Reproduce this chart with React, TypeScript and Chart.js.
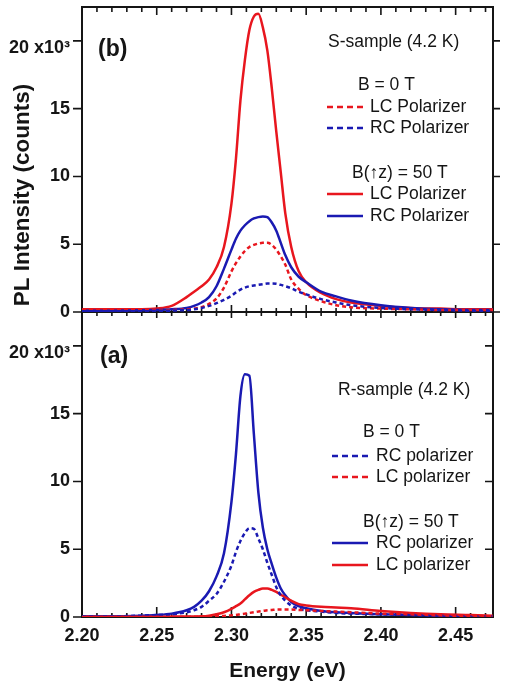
import React, { useEffect, useRef } from 'react';
import { Chart, registerables } from 'chart.js';

Chart.register(...registerables);

const W = 507;
const H = 689;
const FONT = '"Liberation Sans", Arial, Helvetica, sans-serif';

// Photon energy (eV)
const energy = [2.200, 2.220, 2.240, 2.250, 2.260, 2.270, 2.275, 2.280, 2.285, 2.290, 2.295, 2.300, 2.303, 2.306, 2.309, 2.312, 2.315, 2.318, 2.321, 2.324, 2.327, 2.330, 2.333, 2.336, 2.340, 2.345, 2.350, 2.360, 2.370, 2.380, 2.400, 2.420, 2.440, 2.460, 2.475];

// Panel (b) S-sample, PL intensity in 10^3 counts
const sLC0 = [0.15, 0.15, 0.15, 0.15, 0.15, 0.2, 0.25, 0.35, 0.6, 1.0, 1.8, 3.0, 3.6, 4.1, 4.5, 4.8, 4.95, 5.05, 5.1, 5.1, 4.95, 4.6, 4.1, 3.5, 2.4, 1.7, 1.25, 0.8, 0.5, 0.35, 0.25, 0.2, 0.15, 0.15, 0.15];
const sRC0 = [0.05, 0.05, 0.05, 0.08, 0.1, 0.15, 0.2, 0.3, 0.45, 0.65, 0.9, 1.2, 1.45, 1.65, 1.8, 1.9, 1.95, 2.0, 2.05, 2.1, 2.1, 2.08, 2.0, 1.9, 1.75, 1.5, 1.3, 0.95, 0.7, 0.5, 0.3, 0.2, 0.15, 0.1, 0.1];
const sLC50 = [0.2, 0.2, 0.2, 0.25, 0.45, 1.1, 1.5, 1.9, 2.4, 3.3, 4.8, 8.0, 11.3, 15.6, 18.6, 20.8, 21.8, 22.0, 21.0, 19.3, 16.5, 13.3, 10.3, 7.3, 4.8, 3.0, 2.2, 1.4, 0.95, 0.7, 0.45, 0.3, 0.25, 0.2, 0.2];
const sRC50 = [0.1, 0.1, 0.12, 0.15, 0.2, 0.3, 0.45, 0.7, 1.1, 1.9, 3.2, 4.6, 5.4, 6.0, 6.4, 6.7, 6.9, 7.0, 7.05, 7.0, 6.6, 6.0, 5.1, 4.2, 3.3, 2.6, 2.2, 1.5, 1.15, 0.85, 0.5, 0.3, 0.2, 0.15, 0.15];

// Panel (a) R-sample, PL intensity in 10^3 counts
const rRC0 = [0.05, 0.05, 0.1, 0.15, 0.2, 0.35, 0.5, 0.75, 1.2, 1.7, 2.6, 3.8, 4.8, 5.6, 6.2, 6.55, 6.5, 5.8, 5.0, 4.0, 3.1, 2.2, 1.6, 1.2, 0.85, 0.6, 0.5, 0.4, 0.3, 0.25, 0.2, 0.15, 0.1, 0.05, 0.05];
const rLC0 = [0, 0, 0, 0, 0, 0, 0.02, 0.03, 0.04, 0.05, 0.08, 0.12, 0.15, 0.2, 0.25, 0.3, 0.35, 0.4, 0.45, 0.5, 0.52, 0.55, 0.55, 0.55, 0.55, 0.52, 0.5, 0.45, 0.4, 0.35, 0.25, 0.2, 0.12, 0.08, 0.05];
const rRC50 = [0.05, 0.05, 0.1, 0.15, 0.25, 0.5, 0.75, 1.2, 1.9, 3.0, 4.7, 8.5, 12.0, 16.3, 17.9, 17.8, 13.5, 9.2, 6.6, 5.0, 3.9, 2.9, 2.1, 1.6, 1.1, 0.8, 0.65, 0.45, 0.35, 0.3, 0.2, 0.15, 0.1, 0.05, 0.05];
const rLC50 = [0.02, 0.02, 0.02, 0.02, 0.03, 0.03, 0.04, 0.05, 0.1, 0.2, 0.35, 0.6, 0.8, 1.0, 1.3, 1.6, 1.85, 2.0, 2.1, 2.1, 2.0, 1.85, 1.65, 1.45, 1.2, 0.95, 0.85, 0.75, 0.7, 0.65, 0.45, 0.3, 0.2, 0.15, 0.1];

// Axes
const xMin = 2.2;
const xMax = 2.475;
const yMin = 0;
const yMax = 22.5;
const xTicks = [2.20, 2.25, 2.30, 2.35, 2.40, 2.45];
const xTickLabels = ['2.20', '2.25', '2.30', '2.35', '2.40', '2.45'];
const xMinorStep = 0.01;
const yTicks = [0, 5, 10, 15, 20];
const yTickLabels: (string | string[])[] = ['0', '5', '10', '15', ['', '20 x10\u00B3']];

const yTitle = 'PL Intensity (counts)';
const xTitle = 'Energy (eV)';

const RED = '#e8161e';
const BLUE = '#1a1ab2';
const INK = '#151515';

// Legend texts
const topSample = 'S-sample (4.2 K)';
const botSample = 'R-sample (4.2 K)';
const field0 = 'B = 0 T';
const field50 = 'B(\u2191z) = 50 T';
const topLabels = ['LC Polarizer', 'RC Polarizer', 'LC Polarizer', 'RC Polarizer'];
const botLabels = ['RC polarizer', 'LC polarizer', 'RC polarizer', 'LC polarizer'];

const font = (size: number, bold = false) => `${bold ? 'bold ' : ''}${size}px ${FONT}`;

function series(arr: number[]) {
  return energy.map((e, i) => ({ x: e, y: arr[i] }));
}

function ds(label: string, arr: number[], color: string, dotted: boolean) {
  return {
    label,
    data: series(arr),
    borderColor: color,
    backgroundColor: color,
    borderWidth: 2.5,
    borderDash: dotted ? [4, 3] : [],
    pointRadius: 0,
    fill: false,
    cubicInterpolationMode: 'monotone' as const,
  };
}

function framePlugin(isTop: boolean) {
  return {
    id: 'frame' + (isTop ? 'Top' : 'Bot'),
    beforeDatasetsDraw(chart: any) {
      const { ctx, chartArea } = chart;
      const { left, right, top, bottom } = chartArea;
      const xs = chart.scales.x;
      const ys = chart.scales.y;
      ctx.save();
      ctx.strokeStyle = INK;
      ctx.lineWidth = 2;
      ctx.setLineDash([]);
      ctx.beginPath();
      ctx.moveTo(left, top);
      ctx.lineTo(right, top);
      ctx.moveTo(left, bottom);
      ctx.lineTo(right, bottom);
      ctx.moveTo(left, top - 1);
      ctx.lineTo(left, bottom + 1);
      ctx.moveTo(right, top - 1);
      ctx.lineTo(right, bottom + 1);
      ctx.stroke();

      ctx.lineWidth = 1.6;
      ctx.beginPath();
      const n = Math.round((xMax - xMin) / xMinorStep);
      for (let i = 0; i <= n; i++) {
        const v = xMin + i * xMinorStep;
        const major = i % 5 === 0;
        const px = xs.getPixelForValue(v);
        const topLen = isTop ? (major ? 8 : 5) : (major ? 6 : 4);
        const botLen = isTop ? (major ? 7 : 4) : (major ? 10 : 4);
        ctx.moveTo(px, top);
        ctx.lineTo(px, top + topLen);
        ctx.moveTo(px, bottom);
        ctx.lineTo(px, bottom - botLen);
      }
      for (const v of yTicks) {
        const py = ys.getPixelForValue(v);
        ctx.moveTo(left - 9, py);
        ctx.lineTo(left, py);
        if (isTop) {
          ctx.moveTo(right, py);
          ctx.lineTo(right + 7, py);
        } else {
          ctx.moveTo(right - 8, py);
          ctx.lineTo(right, py);
        }
      }
      ctx.stroke();
      ctx.restore();
    },
  };
}

type LegendRow = { text: string; color?: string; dotted?: boolean };

function drawLegend(ctx: CanvasRenderingContext2D, sample: string, sx: number, sy: number,
  h0x: number, h0y: number, rows0: LegendRow[], r0y: number[],
  h1x: number, h1y: number, rows1: LegendRow[], r1y: number[], lx: number, tx: number) {
  ctx.save();
  ctx.fillStyle = INK;
  ctx.font = font(17.5);
  ctx.textAlign = 'left';
  ctx.textBaseline = 'middle';
  ctx.fillText(sample, sx, sy);
  ctx.fillText(field0, h0x, h0y);
  ctx.fillText(field50, h1x, h1y);
  const rows = [...rows0.map((r, i) => ({ ...r, y: r0y[i] })), ...rows1.map((r, i) => ({ ...r, y: r1y[i] }))];
  for (const r of rows) {
    ctx.save();
    ctx.strokeStyle = r.color!;
    ctx.lineWidth = 2.6;
    ctx.setLineDash(r.dotted ? [6, 4] : []);
    ctx.beginPath();
    ctx.moveTo(lx, r.y);
    ctx.lineTo(lx + 36, r.y);
    ctx.stroke();
    ctx.restore();
    ctx.fillText(r.text, tx, r.y);
  }
  ctx.restore();
}

const topTextPlugin = {
  id: 'topText',
  afterDraw(chart: any) {
    const ctx: CanvasRenderingContext2D = chart.ctx;
    ctx.save();
    ctx.fillStyle = INK;
    ctx.translate(23, 195);
    ctx.rotate(-Math.PI / 2);
    ctx.font = font(22.5, true);
    ctx.textAlign = 'center';
    ctx.textBaseline = 'middle';
    ctx.fillText(yTitle, 0, 0);
    ctx.restore();

    ctx.save();
    ctx.fillStyle = INK;
    ctx.font = font(23, true);
    ctx.textAlign = 'left';
    ctx.textBaseline = 'middle';
    ctx.fillText('(b)', 98, 50);
    ctx.restore();

    drawLegend(ctx, topSample, 328, 42,
      358, 85,
      [{ text: topLabels[0], color: RED, dotted: true }, { text: topLabels[1], color: BLUE, dotted: true }], [107, 128],
      352, 173,
      [{ text: topLabels[2], color: RED }, { text: topLabels[3], color: BLUE }], [194, 216],
      327, 370);
  },
};

const botTextPlugin = {
  id: 'botText',
  afterDraw(chart: any) {
    const ctx: CanvasRenderingContext2D = chart.ctx;
    ctx.save();
    ctx.fillStyle = INK;
    ctx.font = font(23, true);
    ctx.textAlign = 'left';
    ctx.textBaseline = 'middle';
    ctx.fillText('(a)', 100, 357);
    ctx.restore();

    drawLegend(ctx, botSample, 338, 390,
      363, 432,
      [{ text: botLabels[0], color: BLUE, dotted: true }, { text: botLabels[1], color: RED, dotted: true }], [456, 477],
      363, 522,
      [{ text: botLabels[2], color: BLUE }, { text: botLabels[3], color: RED }], [543, 565],
      332, 376);
  },
};

function makeOptions(isTop: boolean): any {
  return {
    responsive: false,
    animation: false,
    events: [],
    layout: {
      padding: isTop
        ? { left: 0, right: 14, top: 7, bottom: 377 }
        : { left: 0, right: 14, top: 312, bottom: 0 },
    },
    plugins: {
      legend: { display: false },
      tooltip: { enabled: false },
      title: { display: false },
    },
    scales: {
      x: {
        type: 'linear',
        min: xMin,
        max: xMax,
        display: !isTop,
        afterBuildTicks: (s: any) => {
          s.ticks = xTicks.map((v) => ({ value: v }));
        },
        afterFit: (s: any) => {
          s.height = isTop ? 0 : 72;
          s.paddingLeft = 0;
          s.paddingRight = 0;
        },
        grid: { display: false, drawTicks: false },
        border: { display: false },
        ticks: {
          padding: 8,
          color: INK,
          autoSkip: false,
          maxRotation: 0,
          font: { family: FONT, size: 18, weight: 'bold' },
          callback: (_v: any, i: number) => xTickLabels[i],
        },
        title: {
          display: !isTop,
          text: xTitle,
          color: INK,
          font: { family: FONT, size: 21, weight: 'bold' },
          padding: { top: 0, bottom: 5 },
        },
      },
      y: {
        type: 'linear',
        min: yMin,
        max: yMax,
        afterBuildTicks: (s: any) => {
          s.ticks = yTicks.map((v) => ({ value: v }));
        },
        afterFit: (s: any) => {
          s.width = 82;
          s.paddingTop = 0;
          s.paddingBottom = 0;
        },
        grid: { display: false, drawTicks: false },
        border: { display: false },
        ticks: {
          padding: 12,
          color: INK,
          font: { family: FONT, size: 18, weight: 'bold', lineHeight: 0.75 },
          callback: (_v: any, i: number) => yTickLabels[i],
        },
      },
    },
  };
}

export default function App() {
  const topRef = useRef<HTMLCanvasElement>(null);
  const botRef = useRef<HTMLCanvasElement>(null);

  useEffect(() => {
    const top = new Chart(topRef.current as HTMLCanvasElement, {
      type: 'line',
      data: {
        datasets: [
          ds('RC Polarizer, B = 0 T', sRC0, BLUE, true),
          ds('LC Polarizer, B = 0 T', sLC0, RED, true),
          ds('RC Polarizer, B = 50 T', sRC50, BLUE, false),
          ds('LC Polarizer, B = 50 T', sLC50, RED, false),
        ],
      },
      options: makeOptions(true),
      plugins: [framePlugin(true), topTextPlugin],
    } as any);
    const bot = new Chart(botRef.current as HTMLCanvasElement, {
      type: 'line',
      data: {
        datasets: [
          ds('LC polarizer, B = 0 T', rLC0, RED, true),
          ds('RC polarizer, B = 0 T', rRC0, BLUE, true),
          ds('LC polarizer, B = 50 T', rLC50, RED, false),
          ds('RC polarizer, B = 50 T', rRC50, BLUE, false),
        ],
      },
      options: makeOptions(false),
      plugins: [framePlugin(false), botTextPlugin],
    } as any);
    return () => {
      top.destroy();
      bot.destroy();
    };
  }, []);

  return (
    <div style={{ position: 'absolute', left: 0, top: 0, width: W, height: H, background: '#fff' }}>
      <canvas ref={botRef} width={W} height={H} style={{ position: 'absolute', left: 0, top: 0 }} />
      <canvas ref={topRef} width={W} height={H} style={{ position: 'absolute', left: 0, top: 0 }} />
    </div>
  );
}
